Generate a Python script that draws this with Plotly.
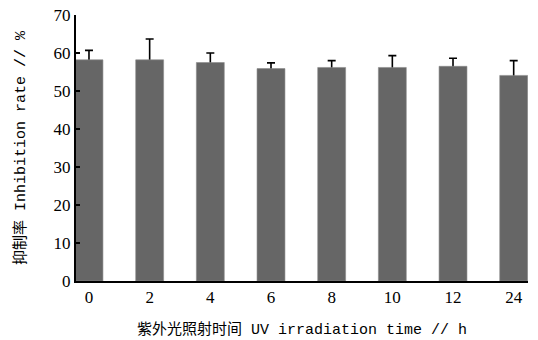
import plotly.graph_objects as go

# UV irradiation time (h) and inhibition rate (%) with upper error
times = ["0", "2", "4", "6", "8", "10", "12", "24"]
inhibition = [58.2, 58.2, 57.5, 55.9, 56.2, 56.2, 56.5, 54.1]
error_up = [2.5, 5.5, 2.5, 1.5, 1.8, 3.1, 2.1, 3.9]
y_ticks = [0, 10, 20, 30, 40, 50, 60, 70]

serif = "Liberation Serif, Times New Roman, serif"
mono = "Liberation Mono, Noto Sans CJK SC, monospace"

xpos = list(range(len(times)))
bar_width = 0.46

fig = go.Figure()

# Transparent bars carry symmetric error bars; the solid bars drawn next
# hide the lower half, leaving only the upward whisker and cap.
fig.add_trace(
    go.Bar(
        x=xpos,
        y=inhibition,
        width=bar_width,
        marker=dict(color="rgba(0,0,0,0)", line=dict(width=0)),
        error_y=dict(
            type="data",
            array=error_up,
            symmetric=True,
            color="#000000",
            thickness=1.6,
            width=4,
        ),
        hoverinfo="skip",
    )
)
fig.add_trace(
    go.Bar(
        x=xpos,
        y=inhibition,
        width=bar_width,
        marker=dict(color="#666666", line=dict(color="#8a8a8a", width=0.6)),
    )
)

fig.update_layout(
    width=538,
    height=340,
    margin=dict(l=76, r=10, t=15, b=59),
    paper_bgcolor="white",
    plot_bgcolor="white",
    showlegend=False,
    barmode="overlay",
    xaxis=dict(
        range=[-0.214, 7.236],
        tickmode="array",
        tickvals=xpos,
        ticktext=times,
        showline=True,
        linecolor="black",
        linewidth=2,
        ticks="",
        showgrid=False,
        zeroline=False,
        automargin=False,
        tickfont=dict(family=serif, size=17, color="black"),
        title=dict(
            text="紫外光照射时间 UV irradiation time // h",
            font=dict(family=mono, size=15, color="black"),
            standoff=17,
        ),
    ),
    yaxis=dict(
        range=[0, 70],
        tickvals=y_ticks,
        showline=True,
        linecolor="black",
        linewidth=2,
        ticks="inside",
        ticklen=4,
        tickwidth=1.5,
        tickcolor="black",
        showgrid=False,
        zeroline=False,
        automargin=False,
        tickfont=dict(family=serif, size=17, color="black"),
        title=dict(
            text="抑制率 Inhibition rate // %",
            font=dict(family=mono, size=15, color="black"),
            standoff=24,
        ),
    ),
)

fig.write_html("out.html")
